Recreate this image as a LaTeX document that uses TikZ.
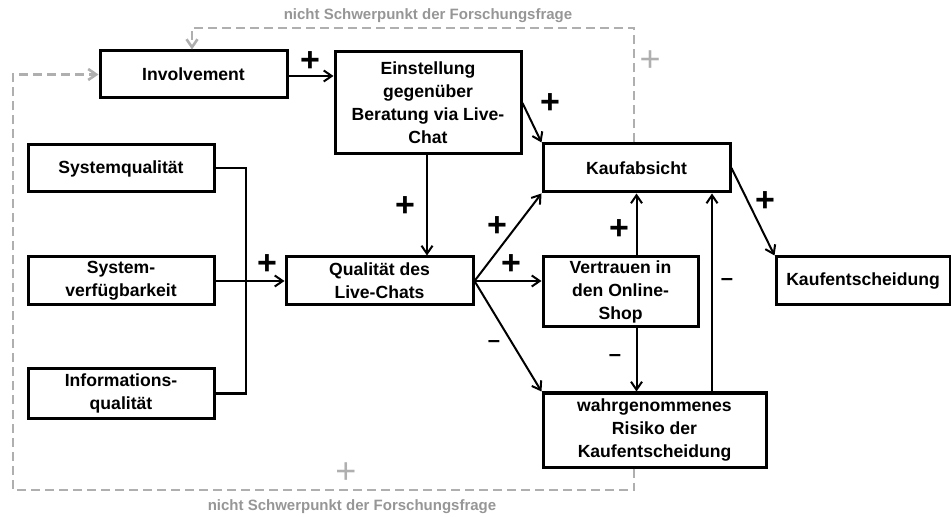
\documentclass[tikz,border=0pt]{standalone}
\usepackage{fontspec}
\setmainfont{Liberation Sans}
\usetikzlibrary{arrows.meta}
\definecolor{dgray}{RGB}{175,175,175}
\definecolor{tgray}{RGB}{150,150,150}
\begin{document}
\begin{tikzpicture}[x=0.5pt,y=-0.5pt,
  box/.style={draw,line width=1.5pt,align=center,inner sep=0pt,
    font=\fontsize{8.8}{11.5}\selectfont\bfseries},
  conn/.style={line width=1pt,-{Straight Barb[length=4pt,width=5.5pt]}},
  plain/.style={line width=1pt},
  dconn/.style={dgray,line width=1.3pt,dash pattern=on 4.5pt off 2.5pt,-{Straight Barb[length=4pt,width=5.5pt]}},
  pluslab/.style={inner sep=0pt,font=\fontsize{17}{17}\selectfont\bfseries},
  minuslab/.style={inner sep=0pt,font=\fontsize{11}{11}\selectfont\bfseries},
  gpluslab/.style={inner sep=0pt,text=dgray,font=\fontsize{18}{18}\selectfont},
  glab/.style={inner sep=0pt,text=tgray,font=\fontsize{7.5}{9}\selectfont\bfseries}
]
\useasboundingbox (0,0) rectangle (951,517);

% boxes
\node[box,minimum width=93.5pt,minimum height=23.5pt] (inv) at (193.5,74.5) {Involvement};
\node[box,minimum width=93pt,minimum height=51pt] (ein) at (428,103) {Einstellung\\gegenüber\\Beratung via Live-\\Chat};
\node[box,minimum width=93pt,minimum height=23.5pt] (sq) at (121,168.5) {Systemqualität};
\node[box,minimum width=93pt,minimum height=24pt] (sv) at (121,281) {System-\\verfügbarkeit};
\node[box,minimum width=93.5pt,minimum height=24pt] (qlc) at (379.5,281) {Qualität des\\Live-Chats};
\node[box,minimum width=93pt,minimum height=24.5pt] (iq) at (121,393.5) {Informations-\\qualität};
\node[box,minimum width=93.5pt,minimum height=24pt] (ka) at (636.5,168) {Kaufabsicht};
\node[box,minimum width=77.5pt,minimum height=35pt] (ver) at (620.5,292) {Vertrauen in\\den Online-\\Shop};
\node[box,minimum width=87pt,minimum height=24pt] (ke) at (863,281) {Kaufentscheidung};
\node[box,minimum width=111.5pt,minimum height=37pt] (risk) at (654.5,430) {wahrgenommenes\\Risiko der\\Kaufentscheidung};

% helper coordinates
\coordinate (bus) at (246,0);
\coordinate (rk) at (712,0);
\coordinate (lb) at (13,490);

% connectors
\draw[conn] (inv.east |- 0,76) -- (ein.west |- 0,76);
\draw[conn] (ein.south -| 427,0) -- (qlc.north -| 427,0);
\draw[conn] (ein.east) -- (ka.north west);
\draw[plain] (sq.east) -| (bus |- iq.east) -- (iq.east);
\draw[conn] (sv.east) -- (qlc.west);
\draw[conn] (qlc.east) -- (ka.south west);
\draw[conn] (qlc.east) -- (qlc.east -| ver.west);
\draw[conn] (qlc.east) -- (risk.north west);
\draw[conn] (ka.south |- ver.north) -- (ka.south);
\draw[conn] (ka.south |- ver.south) -- (ka.south |- risk.north);
\draw[conn] (rk |- risk.north) -- (rk |- ka.south);
\draw[conn] (ka.east) -- (ke.north west);

% dashed feedback paths
\draw[dconn] (ka.north -| 634,0) -- (634,28) -| (inv.north -| 192,0);
\draw[dconn] (risk.south -| 634,0) |- (lb) |- (inv.west);

% signs
\node[pluslab] (p1) at (310,62) {+};
\node[pluslab] (p2) at (405,207) {+};
\node[pluslab] (p3) at (550,104) {+};
\node[pluslab] (p4) at (267,265) {+};
\node[pluslab] (p5) at (497,227) {+};
\node[pluslab] (p6) at (511,265) {+};
\node[pluslab] (p7) at (619,230) {+};
\node[pluslab] (p8) at (765,202) {+};
\node[minuslab] (m1) at (494,344) {–};
\node[minuslab] (m2) at (615,358) {–};
\node[minuslab] (m3) at (727,282) {–};
\node[gpluslab] (g1) at (650,61) {+};
\node[gpluslab] (g2) at (346,473) {+};

% gray captions
\node[glab] (t1) at (428,16) {nicht Schwerpunkt der Forschungsfrage};
\node[glab] (t2) at (352,507) {nicht Schwerpunkt der Forschungsfrage};
\end{tikzpicture}
\end{document}
